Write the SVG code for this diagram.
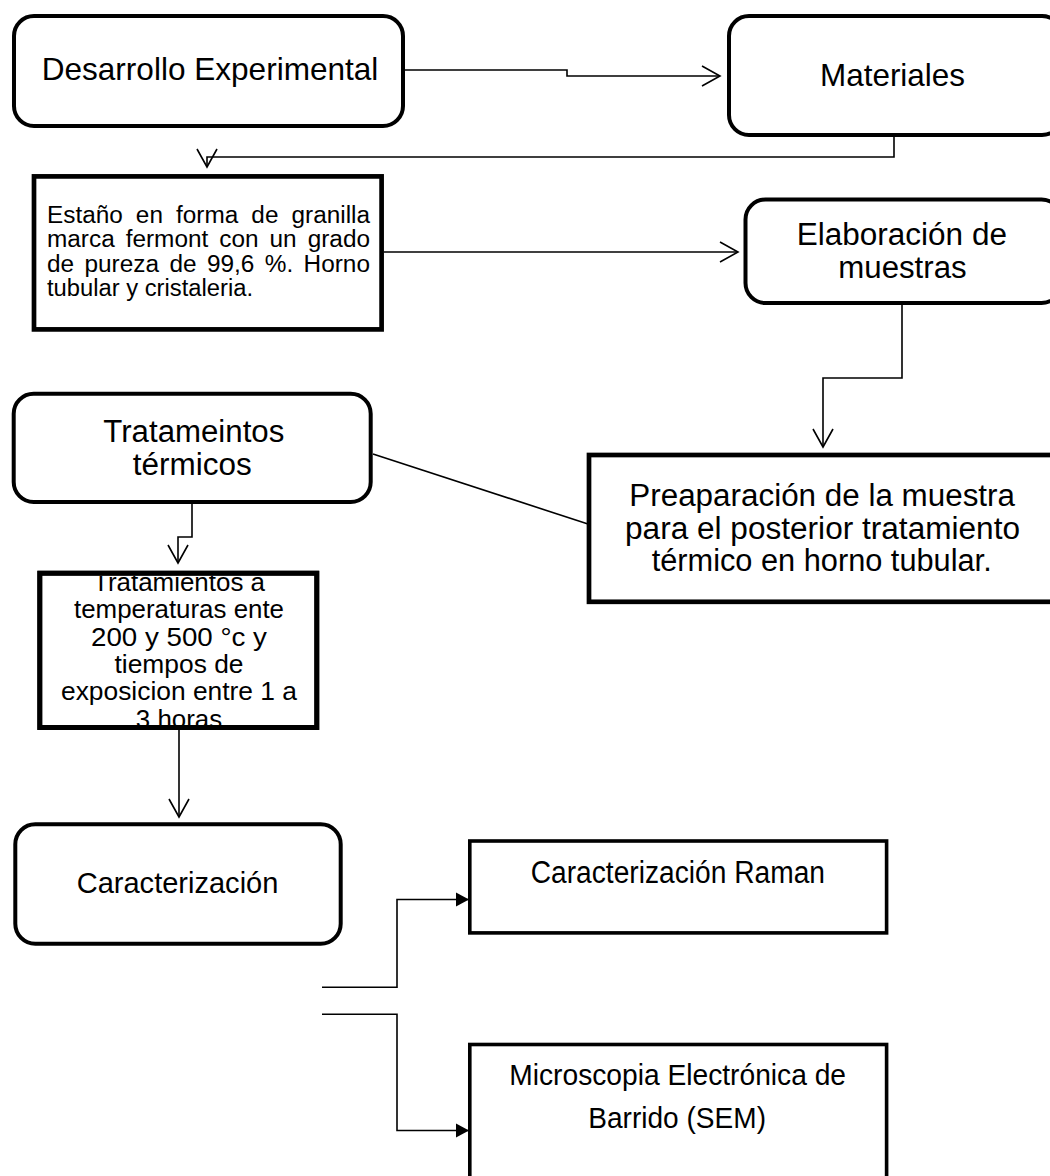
<svg xmlns="http://www.w3.org/2000/svg" width="1050" height="1176" viewBox="0 0 1050 1176">
<style>
.bg{fill:#fff}
.rbox{fill:#fff;stroke:#000;stroke-width:4}
.sbox{fill:#fff;stroke:#000;stroke-width:4.7}
.tbox{fill:#fff;stroke:#000;stroke-width:3.6}
.t{font-family:"Liberation Sans",Arial,sans-serif;fill:#000}
.conn{fill:none;stroke:#000;stroke-width:1.6}
</style>
<defs>
<marker id="open" markerUnits="userSpaceOnUse" markerWidth="24" markerHeight="24" viewBox="-20 -12 22 24" refX="0" refY="0" orient="auto">
<path d="M-18,-10 L0,0 L-18,10" fill="none" stroke="#000" stroke-width="1.6"/>
</marker>
<marker id="fill" markerUnits="userSpaceOnUse" markerWidth="16" markerHeight="16" viewBox="-14 -8 15 16" refX="0" refY="0" orient="auto">
<path d="M-13,-7 L0,0 L-13,7 Z" fill="#000"/>
</marker>
<clipPath id="clipTrat"><rect x="42.3" y="575.7" width="272" height="151.8"/></clipPath>
</defs>
<rect class="bg" x="0" y="0" width="1050" height="1176"/>

<g id="connectors">
<path class="conn" d="M405,70 H567 V76 H720" marker-end="url(#open)"/>
<path class="conn" d="M894,137 V157 H207 V167" marker-end="url(#open)"/>
<path class="conn" d="M384,252 H738" marker-end="url(#open)"/>
<path class="conn" d="M902,305 V378 H823 V447" marker-end="url(#open)"/>
<path class="conn" d="M373,454 L588,524" stroke-width="2"/>
<path class="conn" d="M192,504 V537 H178 V563" marker-end="url(#open)"/>
<path class="conn" d="M179,730 V817" marker-end="url(#open)"/>
<path class="conn" d="M322,987.3 H397 V899.5 H469" marker-end="url(#fill)"/>
<path class="conn" d="M322,1014.3 H397 V1130.5 H469" marker-end="url(#fill)"/>
</g>

<g id="node-desarrollo">
<rect class="rbox" x="14" y="16" width="389" height="110" rx="20"/>
<text class="t" x="41.7" y="79.5" font-size="31.5" textLength="336.7" lengthAdjust="spacingAndGlyphs">Desarrollo Experimental</text>
</g>

<g id="node-materiales">
<rect class="rbox" x="729" y="16" width="333" height="119" rx="20"/>
<text class="t" x="820" y="85.5" font-size="31.5" textLength="145" lengthAdjust="spacingAndGlyphs">Materiales</text>
</g>

<g id="node-estano">
<rect class="sbox" x="34" y="176.4" width="347.6" height="153"/>
<text class="t" x="47" y="222.5" font-size="23" word-spacing="6" textLength="323" lengthAdjust="spacingAndGlyphs">Estaño en forma de granilla</text>
<text class="t" x="47" y="247" font-size="23" word-spacing="4" textLength="323" lengthAdjust="spacingAndGlyphs">marca fermont con un grado</text>
<text class="t" x="47" y="271.5" font-size="23" word-spacing="3.4" textLength="323" lengthAdjust="spacingAndGlyphs">de pureza de 99,6 %. Horno</text>
<text class="t" x="47" y="296" font-size="23" textLength="206" lengthAdjust="spacingAndGlyphs">tubular y cristaleria.</text>
</g>

<g id="node-elaboracion">
<rect class="rbox" x="745.5" y="199.5" width="316" height="103.5" rx="20"/>
<text class="t" x="796.7" y="245" font-size="31" textLength="210.3" lengthAdjust="spacingAndGlyphs">Elaboración de</text>
<text class="t" x="838.3" y="277.5" font-size="31" textLength="128.3" lengthAdjust="spacingAndGlyphs">muestras</text>
</g>

<g id="node-tratameintos">
<rect class="rbox" x="13.7" y="393.7" width="357" height="108.3" rx="20"/>
<text class="t" x="103.3" y="441.5" font-size="31" textLength="181" lengthAdjust="spacingAndGlyphs">Tratameintos</text>
<text class="t" x="132.7" y="474.5" font-size="31" textLength="119" lengthAdjust="spacingAndGlyphs">térmicos</text>
</g>

<g id="node-preparacion">
<rect class="sbox" x="589" y="455" width="480" height="146.8" stroke-width="4.5"/>
<text class="t" x="629.3" y="505.5" font-size="31" textLength="385.7" lengthAdjust="spacingAndGlyphs">Preaparación de la muestra</text>
<text class="t" x="625" y="538.5" font-size="31" textLength="395" lengthAdjust="spacingAndGlyphs">para el posterior tratamiento</text>
<text class="t" x="651.7" y="571" font-size="31" textLength="340" lengthAdjust="spacingAndGlyphs">térmico en horno tubular.</text>
</g>

<g id="node-tratamientos">
<rect class="sbox" x="39.8" y="573.2" width="277" height="154.3" stroke-width="5"/>
<g clip-path="url(#clipTrat)">
<text class="t" x="93" y="590.5" font-size="25" textLength="172" lengthAdjust="spacingAndGlyphs">Tratamientos a</text>
<text class="t" x="74" y="618" font-size="25" textLength="210" lengthAdjust="spacingAndGlyphs">temperaturas ente</text>
<text class="t" x="91" y="645.5" font-size="25" textLength="176" lengthAdjust="spacingAndGlyphs">200 y 500 °c y</text>
<text class="t" x="114.5" y="672.5" font-size="25" textLength="129" lengthAdjust="spacingAndGlyphs">tiempos de</text>
<text class="t" x="61" y="700" font-size="25" textLength="236" lengthAdjust="spacingAndGlyphs">exposicion entre 1 a</text>
<text class="t" x="135.8" y="727.5" font-size="25" textLength="86.4" lengthAdjust="spacingAndGlyphs">3 horas</text>
</g>
<rect x="39.8" y="573.2" width="277" height="154.3" fill="none" stroke="#000" stroke-width="5"/>
</g>

<g id="node-caracterizacion">
<rect class="rbox" x="15.3" y="824.3" width="325.4" height="119.4" rx="20"/>
<text class="t" x="76.7" y="893" font-size="29" textLength="201.7" lengthAdjust="spacingAndGlyphs">Caracterización</text>
</g>

<g id="node-raman">
<rect class="tbox" x="469.8" y="841" width="416.8" height="91.9"/>
<text class="t" x="530.7" y="883" font-size="31" textLength="294.3" lengthAdjust="spacingAndGlyphs">Caracterización Raman</text>
</g>

<g id="node-sem">
<rect class="tbox" x="469.8" y="1044.5" width="416.8" height="200"/>
<text class="t" x="509.3" y="1085" font-size="30" textLength="336.7" lengthAdjust="spacingAndGlyphs">Microscopia Electrónica de</text>
<text class="t" x="588.3" y="1128" font-size="30" textLength="177.7" lengthAdjust="spacingAndGlyphs">Barrido (SEM)</text>
</g>
</svg>
